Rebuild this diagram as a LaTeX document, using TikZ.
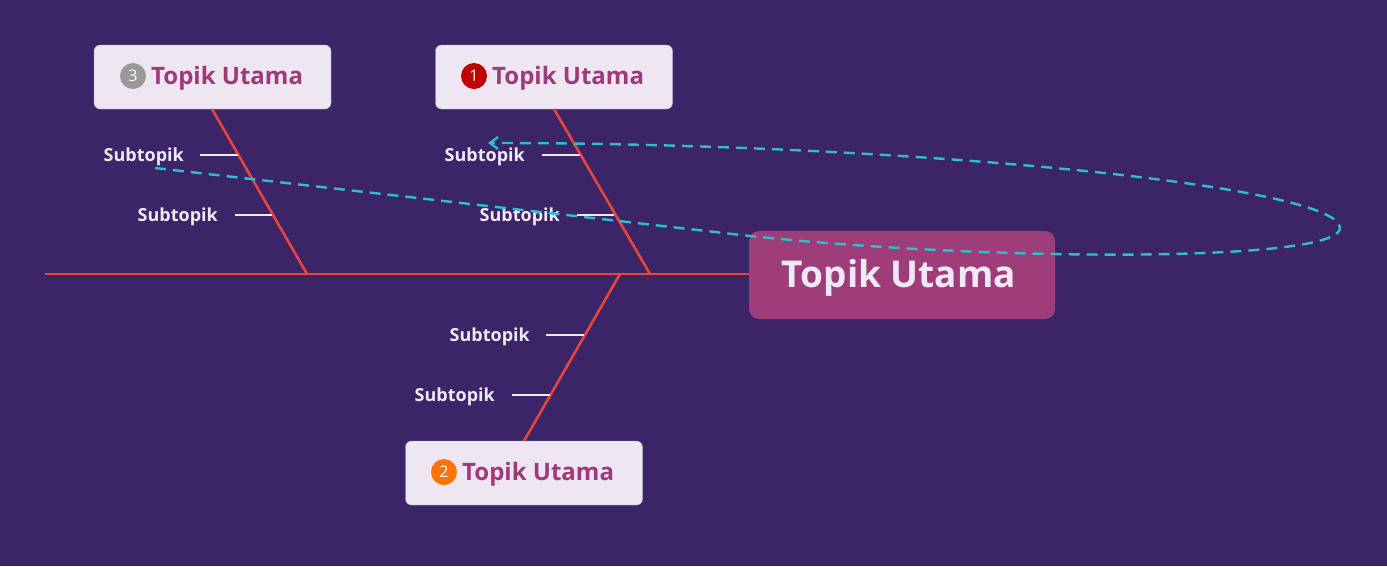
\documentclass[tikz,border=0pt]{standalone}
\usepackage{fontspec}
\setmainfont{Open Sans}
\usetikzlibrary{arrows.meta}
\definecolor{bg}{RGB}{59,36,104}
\definecolor{bone}{RGB}{232,69,60}
\definecolor{mainc}{RGB}{158,61,122}
\definecolor{boxc}{RGB}{238,230,243}
\definecolor{txt}{RGB}{160,57,122}
\definecolor{cyanc}{RGB}{43,191,207}
\definecolor{subc}{RGB}{240,232,245}
\begin{document}
\begin{tikzpicture}[x=1pt,y=-1pt,
  topic/.style={draw=gray!60,fill=boxc,rounded corners=6pt,minimum width=237pt,minimum height=64pt,inner sep=0pt},
  badge/.style={circle,inner sep=0pt,minimum size=26pt,text=white,font=\fontsize{16}{16}\selectfont},
  ttext/.style={text=txt,font=\fontsize{24}{24}\selectfont\bfseries,inner sep=0pt},
  sub/.style={text=subc,font=\fontsize{18}{18}\selectfont\bfseries,anchor=east,inner sep=0pt},
  bonel/.style={draw=bone,line width=2.6pt},
  tick/.style={draw=subc,line width=2.6pt}]
\useasboundingbox (0,0) rectangle (1387,566);
\fill[bg] (0,0) rectangle (1387,566);
% spine
\coordinate (s0) at (45,274);
\coordinate (b3) at (307,274);
\coordinate (b1) at (650,274);
\coordinate (b2) at (620,274);
\node[fill=mainc,rounded corners=10pt,minimum width=306pt,minimum height=88pt,inner sep=0pt] (main) at (902,275) {};
\node[text=subc,font=\fontsize{37}{37}\selectfont\bfseries,inner sep=0pt] (mt) at (899,278) {Topik Utama};
\draw[bonel] (s0) -- (main.west |- s0);
% topics
\node[topic] (t3) at (212.5,77) {};
\node[badge,fill=gray!80] (g3) at (133,76) {3};
\node[ttext,anchor=west] (l3) at (151,78) {Topik Utama};
\node[topic] (t1) at (554,77) {};
\node[badge,fill=red!75!black] (g1) at (474,76) {1};
\node[ttext,anchor=west] (l1) at (492,78) {Topik Utama};
\node[topic] (t2) at (524,473) {};
\node[badge,fill=orange!90!red] (g2) at (444,472) {2};
\node[ttext,anchor=west] (l2) at (462,474) {Topik Utama};
\draw[bonel] (212,109) -- (b3);
\draw[bonel] (554,109) -- (b1);
\draw[bonel] (b2) -- (524,441);
% subtopics
\node[sub] (s31) at (184,157) {Subtopik};
\node[sub] (s32) at (218,217) {Subtopik};
\node[sub] (s11) at (525,157) {Subtopik};
\node[sub] (s12) at (560,217) {Subtopik};
\node[sub] (s21) at (530,337) {Subtopik};
\node[sub] (s22) at (495,397) {Subtopik};
\draw[tick] (200,155) -- (238,155);
\draw[tick] (235,215) -- (272,215);
\draw[tick] (542,155) -- (580,155);
\draw[tick] (577,215) -- (614,215);
\draw[tick] (546,335) -- (584,335);
\draw[tick] (512,395) -- (550,395);
% dashed loop
\draw[cyanc,line width=2.4pt,dash pattern=on 11pt off 7pt,-{Straight Barb[length=8pt,width=12pt]}]
  (155,168) -- (750,236) .. controls (1000,262) and (1340,262) .. (1340,228)
  .. controls (1340,185) and (900,143) .. (488,143);
\end{tikzpicture}
\end{document}
